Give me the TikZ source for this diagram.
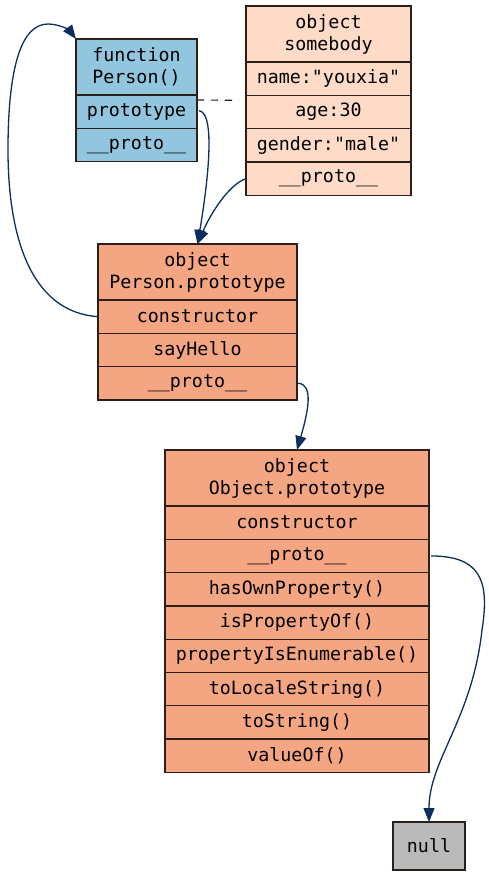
\documentclass[tikz,border=0pt]{standalone}
\usepackage{fontspec}
\setmonofont{DejaVu Sans Mono}
\usetikzlibrary{arrows.meta}
\definecolor{cblue}{HTML}{92C5DE}
\definecolor{cpeach}{HTML}{FDDBC7}
\definecolor{csalmon}{HTML}{F4A582}
\definecolor{cgray}{HTML}{BABABA}
\definecolor{cnavy}{HTML}{0B2E5C}
\definecolor{cedge}{HTML}{2A1F1A}
\tikzset{
  cell/.style={draw=cedge, line width=1.3pt, anchor=north west, inner sep=0pt, outer sep=0pt, align=center,
    font=\ttfamily\fontsize{18.3}{22}\selectfont},
  head/.style={cell, minimum height=56pt},
  rowc/.style={cell, minimum height=33.3pt},
  link/.style={draw=cnavy, line width=1.3pt, -{Triangle[length=14pt,width=11pt]}},
}
\begin{document}
\begin{tikzpicture}[x=1pt,y=-1pt]
\useasboundingbox (0,0) rectangle (489,876);
% function Person
\node[head, fill=cblue, minimum width=121pt] (fp-head) at (76,39) {function\\Person()};
\node[rowc, fill=cblue, minimum width=121pt] (fp-proto) at (fp-head.south west) {prototype};
\node[rowc, fill=cblue, minimum width=121pt] (fp-dunder) at (fp-proto.south west) {\_\_proto\_\_};
% object somebody
\node[head, fill=cpeach, minimum width=165pt] (sb-head) at (246,6) {object\\somebody};
\node[rowc, fill=cpeach, minimum width=165pt] (sb-name) at (sb-head.south west) {name:"youxia"};
\node[rowc, fill=cpeach, minimum width=165pt] (sb-age) at (sb-name.south west) {age:30};
\node[rowc, fill=cpeach, minimum width=165pt] (sb-gender) at (sb-age.south west) {gender:"male"};
\node[rowc, fill=cpeach, minimum width=165pt] (sb-proto) at (sb-gender.south west) {\_\_proto\_\_};
% Person.prototype
\node[head, fill=csalmon, minimum width=199pt] (ppt-head) at (98,244) {object\\Person.prototype};
\node[rowc, fill=csalmon, minimum width=199pt] (ppt-cons) at (ppt-head.south west) {constructor};
\node[rowc, fill=csalmon, minimum width=199pt] (ppt-say) at (ppt-cons.south west) {sayHello};
\node[rowc, fill=csalmon, minimum width=199pt] (ppt-proto) at (ppt-say.south west) {\_\_proto\_\_};
% Object.prototype
\node[head, fill=csalmon, minimum width=264pt] (oop-head) at (165,450) {object\\Object.prototype};
\node[rowc, fill=csalmon, minimum width=264pt] (oop-cons) at (oop-head.south west) {constructor};
\node[rowc, fill=csalmon, minimum width=264pt] (oop-proto) at (oop-cons.south west) {\_\_proto\_\_};
\node[rowc, fill=csalmon, minimum width=264pt] (oop-has) at (oop-proto.south west) {hasOwnProperty()};
\node[rowc, fill=csalmon, minimum width=264pt] (oop-isp) at (oop-has.south west) {isPropertyOf()};
\node[rowc, fill=csalmon, minimum width=264pt] (oop-pie) at (oop-isp.south west) {propertyIsEnumerable()};
\node[rowc, fill=csalmon, minimum width=264pt] (oop-tls) at (oop-pie.south west) {toLocaleString()};
\node[rowc, fill=csalmon, minimum width=264pt] (oop-ts) at (oop-tls.south west) {toString()};
\node[rowc, fill=csalmon, minimum width=264pt] (oop-vo) at (oop-ts.south west) {valueOf()};
% null
\node[cell, fill=cgray, minimum width=72pt, minimum height=48pt] (null) at (393,822) {null};
% connectors
\draw[draw=cedge, line width=1.2pt, dash pattern=on 7pt off 7pt]
  ([yshift=-5pt]fp-proto.north east) -- ([xshift=-7pt,yshift=-5pt]sb-age.north west);
\draw[link] (ppt-cons.west) .. controls (30,312) and (8,235) .. (8,150)
  .. controls (8,65) and (22,24) .. (48,24) .. controls (60,24) and (70,31) .. (fp-head.north west);
\draw[link] ([xshift=2pt,yshift=1pt]fp-proto.east) .. controls (218,113) and (205,200) .. (ppt-head.north);
\draw[link] (sb-proto.west) .. controls (228,185) and (210,215) .. (ppt-head.north);
\draw[link] ([xshift=1pt]ppt-proto.east) .. controls (314,384) and (308,412) .. (oop-head.north);
\draw[link] ([xshift=2pt]oop-proto.east) .. controls (480,556) and (490,580) .. (482,630)
  .. controls (472,720) and (429,760) .. (null.north);
\end{tikzpicture}
\end{document}
